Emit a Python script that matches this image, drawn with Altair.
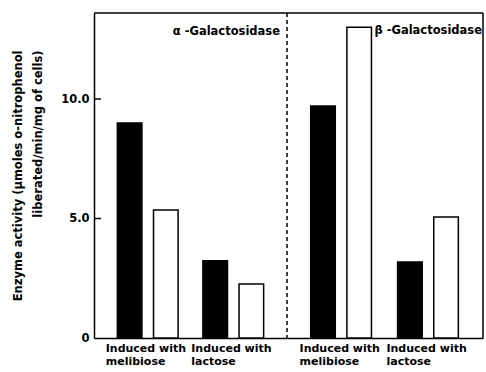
import altair as alt
import pandas as pd

# ---- data ----
panels = ["alpha", "alpha", "alpha", "alpha", "beta", "beta", "beta", "beta"]
inducers = ["Induced with|melibiose", "Induced with|melibiose",
            "Induced with|lactose", "Induced with|lactose"] * 2
series = ["solid", "open"] * 4
activity = [9.0, 5.36, 3.23, 2.26, 9.71, 13.0, 3.18, 5.06]

panel_titles = {"alpha": "α -Galactosidase", "beta": "β -Galactosidase"}
inducer_order = ["Induced with|melibiose", "Induced with|lactose"]
series_order = ["solid", "open"]
y_tick_values = [0, 5, 10]
inner_ticks = [5, 10]

df = pd.DataFrame({"panel": panels, "inducer": inducers,
                   "series": series, "activity": activity})

FONT = "DejaVu Sans"
FS = 11.5
H = 325
Y_DOMAIN = [0, 13.6]


def make_panel(key, width, first):
    d = df[df["panel"] == key]
    yscale = alt.Scale(domain=Y_DOMAIN, nice=False, zero=True)
    if first:
        yaxis = alt.Axis(
            title=["Enzyme activity (μmoles o-nitrophenol", "liberated/min/mg of cells)"],
            values=y_tick_values,
            labelExpr="datum.value == 0 ? '0' : format(datum.value, '.1f')",
            labelFont=FONT, labelFontWeight="bold", labelFontSize=FS,
            labelColor="black", labelPadding=5,
            ticks=False, grid=False,
            domainColor="black", domainWidth=1.5,
            titleFont=FONT, titleFontWeight="bold", titleFontSize=FS,
            titleColor="black", titleAlign="right", titleBaseline="top",
            titleAngle=270, titleX=-82, titleY=37, titleLineHeight=20,
        )
    else:
        yaxis = None
    xaxis = alt.Axis(
        title=None, labelExpr="split(datum.label, '|')",
        labelAlign="left", labelOffset=-42, labelAngle=0,
        labelFont=FONT, labelFontWeight="bold", labelFontSize=11,
        labelColor="black", labelLineHeight=13, labelPadding=4,
        labelBaseline="top",
        ticks=False, grid=False, domainColor="black", domainWidth=1.5,
    )
    bars = alt.Chart(d).mark_bar(stroke="black", strokeWidth=1.5).encode(
        x=alt.X("inducer:N", sort=inducer_order, axis=xaxis,
                scale=alt.Scale(paddingInner=0.29, paddingOuter=0.273)),
        xOffset=alt.XOffset("series:N", sort=series_order,
                            scale=alt.Scale(paddingInner=0.32, paddingOuter=0)),
        y=alt.Y("activity:Q", scale=yscale, axis=yaxis),
        color=alt.Color("series:N", legend=None,
                        scale=alt.Scale(domain=series_order, range=["black", "white"])),
    )
    one = pd.DataFrame({"k": [0]})
    top = alt.Chart(one).mark_rule(color="black", strokeWidth=1.5).encode(
        x=alt.value(0), x2=alt.value(width), y=alt.value(0))
    layers = [bars, top]
    if first:
        ticks = alt.Chart(pd.DataFrame({"activity": inner_ticks})).mark_rule(
            color="black", strokeWidth=1.5).encode(
            y=alt.Y("activity:Q", scale=yscale),
            x=alt.value(0), x2=alt.value(7))
        divider = alt.Chart(one).mark_rule(color="black", strokeWidth=1.5,
                                           strokeDash=[4, 3]).encode(
            x=alt.value(width), y=alt.value(0), y2=alt.value(H))
        label = alt.Chart(one).mark_text(
            text=panel_titles[key], align="right", baseline="middle",
            font=FONT, fontWeight="bold", fontSize=FS, color="black").encode(
            x=alt.value(width - 7), y=alt.value(19))
        layers += [ticks, divider, label]
    else:
        right = alt.Chart(one).mark_rule(color="black", strokeWidth=1.5).encode(
            x=alt.value(width), y=alt.value(0), y2=alt.value(H))
        label = alt.Chart(one).mark_text(
            text=panel_titles[key], align="right", baseline="middle",
            font=FONT, fontWeight="bold", fontSize=FS, color="black").encode(
            x=alt.value(width - 1), y=alt.value(18))
        layers += [right, label]
    return alt.layer(*layers).properties(width=width, height=H)


chart = alt.hconcat(
    make_panel("alpha", 193, True),
    make_panel("beta", 196, False),
    spacing=0, bounds="flush",
).properties(
    padding={"left": 12, "top": 12, "right": 0, "bottom": 0},
    background="white",
).configure_view(stroke=None)

chart.save("out.html", embed_options={"renderer": "svg", "actions": False})
